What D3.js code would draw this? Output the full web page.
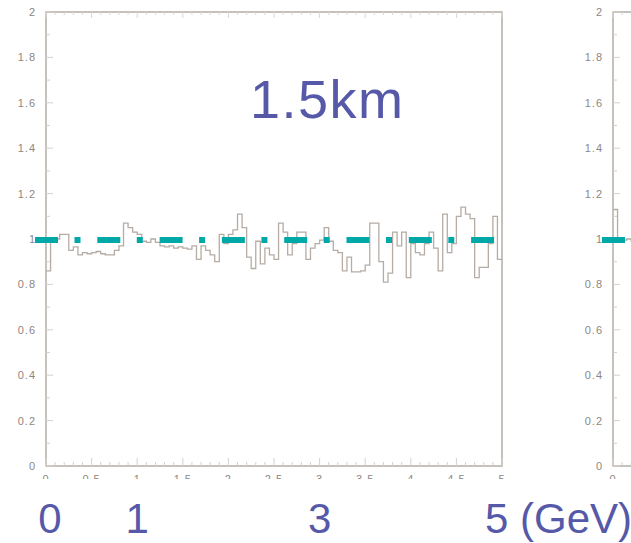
<!DOCTYPE html>
<html lang="en">
<head>
  <meta charset="UTF-8">
  <title>1.5km ratio</title>
  <script src="https://cdn.jsdelivr.net/npm/d3@7"></script>
  <style>
    body { margin: 0; background: #fff; }
    svg { display: block; }
  </style>
</head>
<body>
  <svg class="chart"></svg>
</body>
</html>
<script>
  var svgWidth = 631;
  var svgHeight = 543;

  // ratio histogram, 100 bins of 0.05 GeV (left panel)
  var ratioLeft = [
    0.86, 1.00, 1.00, 1.02, 1.02, 0.95, 0.965, 0.93, 0.94, 0.935,
    0.94, 0.945, 0.935, 0.93, 0.93, 0.95, 0.97, 1.07, 1.05, 1.03,
    1.02, 0.99, 0.985, 1.00, 0.985, 0.97, 0.965, 0.97, 0.96, 0.965,
    0.96, 0.955, 0.97, 0.91, 0.97, 0.95, 0.93, 0.90, 1.02, 0.98,
    1.02, 1.04, 1.11, 1.05, 0.92, 0.87, 0.99, 0.89, 0.96, 0.93,
    0.91, 1.07, 1.03, 0.93, 0.98, 1.03, 1.03, 0.91, 0.96, 0.98,
    0.995, 1.05, 0.99, 0.95, 0.94, 0.86, 0.92, 0.855, 0.855, 0.86,
    0.885, 1.07, 1.07, 0.90, 0.81, 0.85, 1.03, 0.97, 1.03, 0.83,
    0.98, 0.94, 0.93, 0.98, 1.03, 0.96, 0.86, 1.11, 0.94, 0.98,
    1.10, 1.14, 1.11, 1.09, 0.83, 0.875, 0.875, 0.98, 1.10, 0.91
  ];
  // right panel, only the first bins are inside the picture
  var ratioRight = [1.13, 1.00, 0.995, 1.00, 0.99];
  var binWidth = 0.05;

  var yTicks = [0, 0.2, 0.4, 0.6, 0.8, 1, 1.2, 1.4, 1.6, 1.8, 2];
  var xTicks = [0, 0.5, 1, 1.5, 2, 2.5, 3, 3.5, 4, 4.5, 5];
  var bigLabels = [0, 1, 3, 5];
  var refLevel = 1;
  var title = '1.5km';

  var frameColor = '#a9a098';
  var histColor = '#b5aca4';
  var tickTextColor = '#8c8783';
  var blue = '#5559a8';
  var teal = '#00a9a7';

  var svg = d3.select('.chart')
  .attr('width', svgWidth)
  .attr('height', svgHeight);

  var yScale = d3.scaleLinear()
  .domain([0, 2])
  .range([466, 12]);

  function drawPanel(left, values, showTitle) {
    var xScale = d3.scaleLinear()
    .domain([0, 5])
    .range([left, left + 456]);
    var g = svg.append('g');

    // frame
    g.append('rect')
    .attr('x', xScale(0))
    .attr('y', yScale(2))
    .attr('width', xScale(5) - xScale(0))
    .attr('height', yScale(0) - yScale(2))
    .attr('fill', 'none')
    .attr('stroke', frameColor)
    .attr('stroke-width', 1.3);

    // minor ticks
    var yMinor = d3.range(0, 2.001, 0.1);
    g.selectAll('.ymin')
    .data(yMinor)
    .enter()
    .append('line')
    .attr('x1', xScale(0))
    .attr('x2', function(d, i) { return xScale(0) + (i % 2 === 0 ? 7 : 4); })
    .attr('y1', function(d) { return yScale(d); })
    .attr('y2', function(d) { return yScale(d); })
    .attr('stroke', '#d6d0ca')
    .attr('stroke-width', 1);

    var xMinor = d3.range(0, 5.001, 0.1);
    g.selectAll('.xmin')
    .data(xMinor)
    .enter()
    .append('line')
    .attr('x1', function(d) { return xScale(d); })
    .attr('x2', function(d) { return xScale(d); })
    .attr('y1', yScale(0))
    .attr('y2', function(d, i) { return yScale(0) - (i % 5 === 0 ? 8 : 4); })
    .attr('stroke', '#d6d0ca')
    .attr('stroke-width', 1);

    g.selectAll('.xmintop')
    .data(xMinor)
    .enter()
    .append('line')
    .attr('x1', function(d) { return xScale(d); })
    .attr('x2', function(d) { return xScale(d); })
    .attr('y1', yScale(2))
    .attr('y2', function(d, i) { return yScale(2) + (i % 5 === 0 ? 6 : 3); })
    .attr('stroke', '#ddd6d0')
    .attr('stroke-width', 1);

    // y tick labels
    g.selectAll('.ylab')
    .data(yTicks)
    .enter()
    .append('text')
    .attr('x', xScale(0) - 10)
    .attr('y', function(d) { return yScale(d) + 4; })
    .attr('text-anchor', 'end')
    .attr('font-family', 'Liberation Sans, Arial, sans-serif')
    .attr('font-size', 11)
    .attr('letter-spacing', 1)
    .attr('fill', tickTextColor)
    .text(function(d) { return d; });

    // x tick labels (bottom half gets covered later), only those inside the picture
    g.selectAll('.xlab')
    .data(xTicks.filter(function(d) { return xScale(d) + 8 < svgWidth; }))
    .enter()
    .append('text')
    .attr('x', function(d) { return xScale(d); })
    .attr('y', yScale(0) + 17)
    .attr('text-anchor', 'middle')
    .attr('font-family', 'Liberation Sans, Arial, sans-serif')
    .attr('font-size', 11)
    .attr('letter-spacing', 1)
    .attr('fill', tickTextColor)
    .text(function(d) { return d; });

    // histogram as a step line
    var pts = values.map(function(v, i) { return [i * binWidth, v]; });
    pts.push([values.length * binWidth, values[values.length - 1]]);
    var line = d3.line()
    .x(function(d) { return xScale(d[0]); })
    .y(function(d) { return yScale(d[1]); })
    .curve(d3.curveStepAfter);
    g.append('path')
    .attr('d', line(pts))
    .attr('fill', 'none')
    .attr('stroke', histColor)
    .attr('stroke-width', 1.3);

    // reference line at 1
    g.append('line')
    .attr('x1', xScale(0) - 11)
    .attr('x2', xScale(5) - 7)
    .attr('y1', yScale(refLevel) + 1)
    .attr('y2', yScale(refLevel) + 1)
    .attr('stroke', teal)
    .attr('stroke-width', 6)
    .attr('stroke-dasharray', '23,16.5,6,16.8');

    if (showTitle) {
      svg.append('text')
      .attr('x', 250)
      .attr('y', 118)
      .attr('font-family', 'Liberation Sans, Arial, sans-serif')
      .attr('font-size', 54)
      .attr('letter-spacing', 1.5)
      .attr('fill', blue)
      .text(title);
    }
    return xScale;
  }

  var xLeft = drawPanel(46, ratioLeft, true);
  drawPanel(613, ratioRight, false);

  // white band under the plots
  svg.append('rect')
  .attr('x', 0)
  .attr('y', 479)
  .attr('width', svgWidth)
  .attr('height', svgHeight - 479)
  .attr('fill', '#fff');

  // big energy labels
  svg.selectAll('.big')
  .data(bigLabels)
  .enter()
  .append('text')
  .attr('x', function(d) { return d === 5 ? xLeft(d) - 17 : xLeft(d) + (d === 0 ? 4 : 0); })
  .attr('y', 533)
  .attr('text-anchor', function(d) { return d === 5 ? 'start' : 'middle'; })
  .attr('font-family', 'Liberation Sans, Arial, sans-serif')
  .attr('font-size', 42)
  .attr('fill', blue)
  .text(function(d) { return d === 5 ? '5 (GeV)' : d; });
</script>
